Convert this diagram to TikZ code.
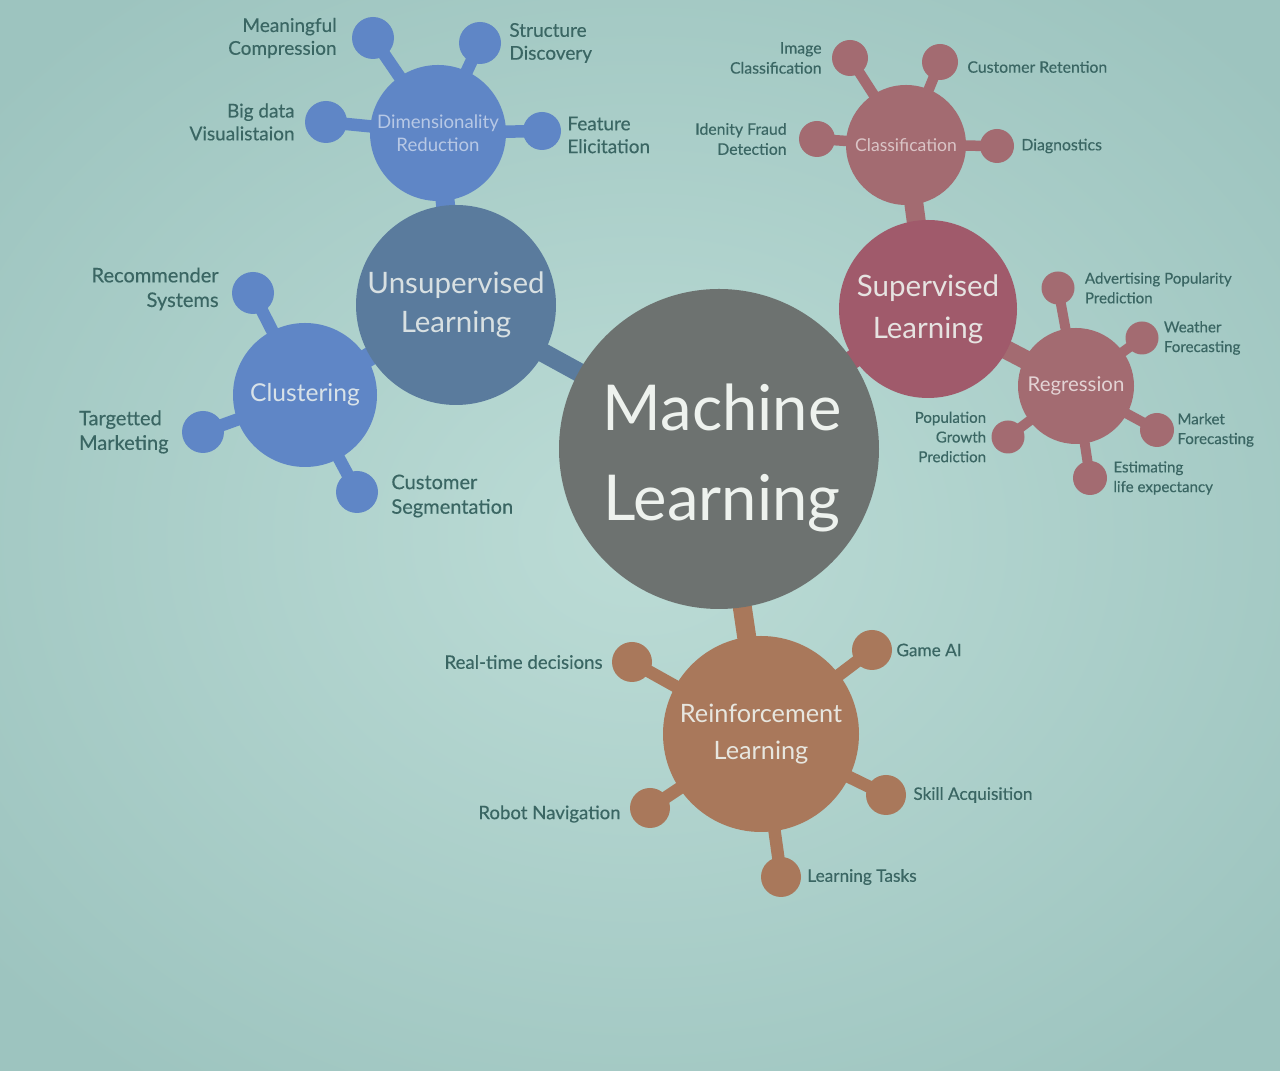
\documentclass[tikz,border=0pt]{standalone}
\usepackage{fontspec}
\setmainfont{Lato}
\newfontfamily\labfont{Lato}[FakeBold=0.35]
\usetikzlibrary{positioning, backgrounds}
\definecolor{slidemid}{HTML}{BCDCD6}
\definecolor{slideedge}{HTML}{9DC4BF}
\definecolor{mlgrey}{HTML}{6D7270}
\definecolor{unsupslate}{HTML}{5A7B9D}
\definecolor{unsupblue}{HTML}{5F86C6}
\definecolor{suprose}{HTML}{A05A6B}
\definecolor{supdusty}{HTML}{A36B71}
\definecolor{reinbrown}{HTML}{A9785B}
\definecolor{labteal}{HTML}{3A6663}
\definecolor{inkwhite}{HTML}{EEF2EE}

\begin{document}
\begin{tikzpicture}[x=0.1mm, y=-0.1mm,
    hub/.style={circle, fill=#1, inner sep=0pt, align=center},
    leaf/.style={circle, fill=#1, inner sep=0pt, minimum size=4.2mm},
    stalk/.style={draw=#1, line width=1.25mm},
    trunk/.style={draw=#1, line width=1.9mm},
    lab/.style={text=labteal, inner sep=0pt}]
  \useasboundingbox (0,0) rectangle (1280,1071);

  % hubs
  \node[hub=mlgrey, minimum size=32mm] (ml) at (719,449) {};
  \node[text=inkwhite, align=center, inner sep=0pt,
    font=\fontsize{18}{25.6}\selectfont] (mlText) at (722,458) {Machine\\Learning};
  \node[hub=unsupslate, minimum size=20mm, text=inkwhite!85!unsupslate,
    font=\fontsize{8.4}{11.2}\selectfont] (unsup) at (456,305) {Unsupervised\\Learning};
  \node[hub=unsupblue, minimum size=13.6mm, text=unsupblue!45!white,
    font=\fontsize{5.3}{6.4}\selectfont] (dimred) at (438,133) {Dimensionality\\Reduction};
  \node[hub=unsupblue, minimum size=14.4mm, text=inkwhite!85!unsupblue,
    font=\fontsize{7}{8.4}\selectfont] (clust) at (305,395) {Clustering};
  \node[hub=suprose, minimum size=17.8mm, text=inkwhite!90!suprose,
    font=\fontsize{8.4}{12}\selectfont] (sup) at (928,309) {Supervised\\Learning};
  \node[hub=supdusty, minimum size=12mm, text=supdusty!40!white,
    font=\fontsize{5}{6}\selectfont] (classif) at (906,145) {Classification};
  \node[hub=supdusty, minimum size=11.6mm, text=supdusty!30!white,
    font=\fontsize{5.8}{7}\selectfont] (regr) at (1076,386) {Regression};
  \node[hub=reinbrown, minimum size=19.6mm, text=inkwhite!90!reinbrown,
    font=\fontsize{7.2}{10.5}\selectfont] (reinf) at (761,734) {Reinforcement\\Learning};

  % leaves
  \node[leaf=unsupblue] (mcomp) at (373,38) {};
  \node[leaf=unsupblue] (sdisc) at (480,43) {};
  \node[leaf=unsupblue] (bigviz) at (326,122) {};
  \node[leaf=unsupblue, minimum size=3.8mm] (felic) at (542,131) {};
  \node[leaf=unsupblue] (recsys) at (253,293) {};
  \node[leaf=unsupblue] (tmark) at (203,432) {};
  \node[leaf=unsupblue] (cseg) at (357,492) {};
  \node[leaf=supdusty, minimum size=3.6mm] (imgcls) at (850,58) {};
  \node[leaf=supdusty, minimum size=3.6mm] (cret) at (940,62) {};
  \node[leaf=supdusty, minimum size=3.6mm] (fraud) at (817,139) {};
  \node[leaf=supdusty, minimum size=3.4mm] (diag) at (997,146) {};
  \node[leaf=supdusty, minimum size=3.3mm] (adpop) at (1058,288) {};
  \node[leaf=supdusty, minimum size=3.3mm] (weather) at (1142,338) {};
  \node[leaf=supdusty, minimum size=3.3mm] (popgr) at (1008,437) {};
  \node[leaf=supdusty, minimum size=3.4mm] (market) at (1157,430) {};
  \node[leaf=supdusty, minimum size=3.4mm] (lifeexp) at (1090,478) {};
  \node[leaf=reinbrown, minimum size=4mm] (rtdec) at (632,662) {};
  \node[leaf=reinbrown, minimum size=4mm] (gameai) at (872,650) {};
  \node[leaf=reinbrown, minimum size=4mm] (robnav) at (650,808) {};
  \node[leaf=reinbrown, minimum size=4mm] (skill) at (886,795) {};
  \node[leaf=reinbrown, minimum size=4mm] (ltasks) at (781,877) {};

  % labels
  \begin{scope}[every node/.append style={font=\labfont\fontsize{5.4}{6.5}\selectfont}]
    \node[lab, left=1.4mm of mcomp, align=right] (mcompLab) {Meaningful\\Compression};
    \node[lab, right=0.7mm of sdisc, align=left] (sdiscLab) {Structure\\Discovery};
    \node[lab, left=0.9mm of bigviz, align=right] (bigvizLab) {Big data\\Visualistaion};
    \node[lab, right=0.5mm of felic, align=left, yshift=-0.4mm] (felicLab) {Feature\\Elicitation};
  \end{scope}
  \begin{scope}[every node/.append style={font=\labfont\fontsize{5.7}{7}\selectfont}]
    \node[lab, left=1.2mm of recsys, align=right, yshift=0.4mm] (recsysLab) {Recommender\\Systems};
    \node[lab, left=1.2mm of tmark, align=left] (tmarkLab) {Targetted\\Marketing};
    \node[lab, right=1.2mm of cseg, align=left, yshift=-0.4mm] (csegLab) {Customer\\Segmentation};
  \end{scope}
  \begin{scope}[every node/.append style={font=\labfont\fontsize{4.5}{5.7}\selectfont}]
    \node[lab, left=0.9mm of imgcls, align=right] (imgclsLab) {Image\\Classification};
    \node[lab, right=0.8mm of cret, yshift=-0.5mm] (cretLab) {Customer Retention};
    \node[lab, left=1.1mm of fraud, align=right] (fraudLab) {Idenity Fraud\\Detection};
    \node[lab, right=0.6mm of diag] (diagLab) {Diagnostics};
  \end{scope}
  \begin{scope}[every node/.append style={font=\labfont\fontsize{4.3}{5.6}\selectfont}]
    \node[lab, right=0.9mm of adpop, align=left] (adpopLab) {Advertising Popularity\\Prediction};
    \node[lab, right=0.4mm of weather, align=left] (weatherLab) {Weather\\Forecasting};
    \node[lab, left=0.4mm of popgr, align=right] (popgrLab) {Population\\Growth\\Prediction};
    \node[lab, right=0.2mm of market, align=left] (marketLab) {Market\\Forecasting};
    \node[lab, right=0.5mm of lifeexp, align=left] (lifeexpLab) {Estimating\\life expectancy};
  \end{scope}
  \begin{scope}[every node/.append style={font=\labfont\fontsize{5.3}{6.4}\selectfont}]
    \node[lab, left=0.8mm of rtdec] (rtdecLab) {Real-time decisions};
    \node[lab, left=0.8mm of robnav, yshift=-0.6mm] (robnavLab) {Robot Navigation};
  \end{scope}
  \begin{scope}[every node/.append style={font=\labfont\fontsize{4.9}{6}\selectfont}]
    \node[lab, right=0.3mm of gameai] (gameaiLab) {Game AI};
    \node[lab, right=0.6mm of skill] (skillLab) {Skill Acquisition};
    \node[lab, right=0.5mm of ltasks] (ltasksLab) {Learning Tasks};
  \end{scope}

  % slide and stalks behind the hubs
  \begin{scope}[on background layer]
    \shade[inner color=slidemid, outer color=slideedge] (-200,-150) rectangle (1480,1221);
    \draw[trunk=unsupslate] (ml.center) -- (unsup.center);
    \draw[trunk=unsupblue] (unsup.center) -- (dimred.center);
    \draw[trunk=unsupblue] (unsup.center) -- (clust.center);
    \draw[trunk=suprose] (ml.center) -- (sup.center);
    \draw[trunk=supdusty] (sup.center) -- (classif.center);
    \draw[trunk=supdusty] (sup.center) -- (regr.center);
    \draw[trunk=reinbrown] (ml.center) -- (reinf.center);
    \foreach \b in {mcomp, sdisc, bigviz, felic}
      \draw[stalk=unsupblue] (dimred.center) -- (\b.center);
    \foreach \b in {recsys, tmark, cseg}
      \draw[stalk=unsupblue] (clust.center) -- (\b.center);
    \foreach \b in {imgcls, cret, fraud, diag}
      \draw[stalk=supdusty, line width=1.05mm] (classif.center) -- (\b.center);
    \foreach \b in {adpop, weather, popgr, market, lifeexp}
      \draw[stalk=supdusty, line width=1mm] (regr.center) -- (\b.center);
    \foreach \b in {rtdec, gameai, robnav, skill, ltasks}
      \draw[stalk=reinbrown] (reinf.center) -- (\b.center);
  \end{scope}
\end{tikzpicture}
\end{document}
